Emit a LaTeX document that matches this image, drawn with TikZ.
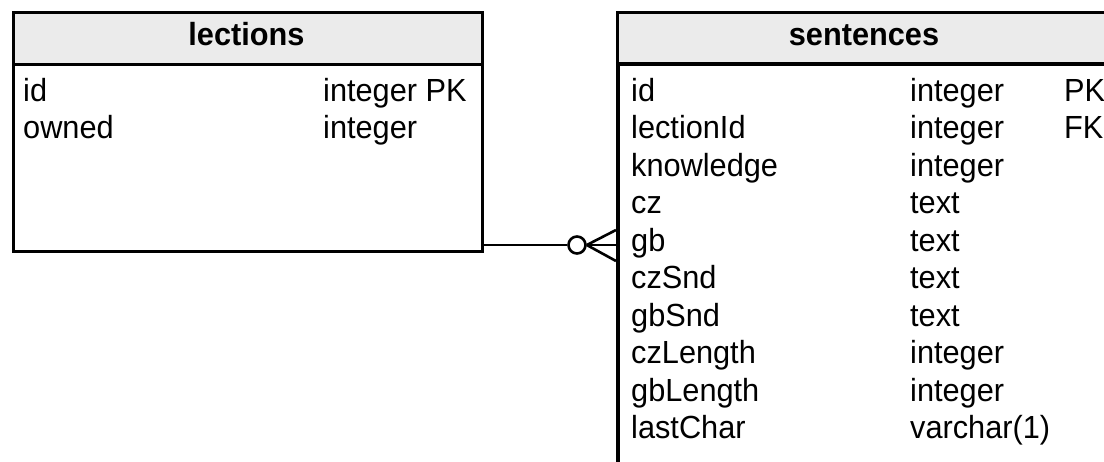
\documentclass[tikz,border=0pt]{standalone}
\usepackage{fontspec}
\setmainfont{Liberation Sans}[FakeStretch=0.96]
\usetikzlibrary{calc}
\definecolor{headgray}{HTML}{EBEBEB}
\tikzset{
  tbl/.style={draw=black, line width=2.8pt, rectangle, inner sep=0pt, anchor=north west},
  head/.style={tbl, fill=headgray},
  cell/.style={anchor=base west, inner sep=0pt, font=\fontsize{32}{36}\selectfont},
  title/.style={anchor=base, inner sep=0pt, font=\fontsize{32}{36}\selectfont\bfseries},
  link/.style={line width=2.6pt},
}
\begin{document}
\begin{tikzpicture}[x=1pt,y=-1pt]
\useasboundingbox (0,0) rectangle (1104,461);
\clip (0,0) rectangle (1104,461);

% table: lections
\node[head, minimum width=469pt, minimum height=52pt] (lh) at (12,11) {};
\node[tbl, minimum width=469pt, minimum height=187pt] (lb) at (12,63) {};
\node[title] (lt) at (246.5,45) {lections};
\node[cell] (ln1) at (23,101) {id};
\node[cell] (lt1) at (323,101) {integer PK};
\node[cell] (ln2) at (23,138.5) {owned};
\node[cell] (lt2) at (323,138.5) {integer};

% table: sentences
\node[head, line width=3.2pt, minimum width=496pt, minimum height=51pt] (sh) at (616,11) {};
\node[tbl, line width=3.6pt, minimum width=496pt, minimum height=450pt] (sb) at (616,62) {};
\node[title] (st) at (864,45) {sentences};
\foreach \n/\t [count=\i] in {id/integer, lectionId/integer, knowledge/integer,
    cz/text, gb/text, czSnd/text, gbSnd/text, czLength/integer,
    gbLength/integer, lastChar/varchar(1)} {
  \node[cell] (sn\i) at (631,{101+37.5*(\i-1)}) {\n};
  \node[cell] (stp\i) at (910,{101+37.5*(\i-1)}) {\t};
}
\node[cell] (sk1) at (1064,101) {PK};
\node[cell] (sk2) at (1064,138.5) {FK};

% relationship: one lection has zero or more sentences
\node[circle, draw=black, fill=white, line width=2.6pt, minimum size=17pt, inner sep=0pt] (opt) at (577,245) {};
\draw[link] (opt.west) -- (opt.west -| lb.east);
\draw[link] (opt.east) -- ([yshift=15pt]opt.east -| sb.west);
\draw[link] (opt.east) -- (opt.east -| sb.west);
\draw[link] (opt.east) -- ([yshift=-16pt]opt.east -| sb.west);
\end{tikzpicture}
\end{document}
